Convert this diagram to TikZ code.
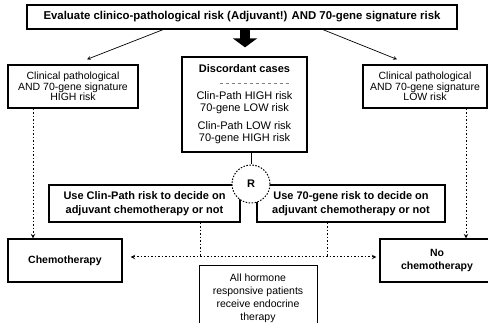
\documentclass[tikz,border=0pt]{standalone}
\usepackage{fontspec}
\setmainfont{Liberation Sans}
\usetikzlibrary{arrows.meta}
\begin{document}
\begin{tikzpicture}[x=1pt, y=-1pt, >=stealth, font=\fontsize{10.5}{10.5}\selectfont]
      \tikzset{box/.style={draw, line width=1.3pt, minimum height=43pt, inner sep=1pt, align=center},
               dotlink/.style={dash pattern=on 1.5pt off 2pt, line width=1pt}}
      \useasboundingbox (0,0) rectangle (488,323);
      \clip (0,0) rectangle (488,323);
      \node[box, minimum width=430pt, minimum height=24pt, font=\fontsize{11.4}{12}\selectfont\bfseries] (eval) at (242,17) {Evaluate clinico-pathological risk (Adjuvant!) AND 70-gene signature risk};
      \node[box, minimum width=130pt] (highrisk) at (73,86.5) {Clinical pathological\\AND 70-gene signature\\HIGH risk};
      \node[box, minimum width=124pt] (lowrisk) at (425,86.5) {Clinical pathological\\AND 70-gene signature\\LOW risk};
      \node[box, minimum width=125pt, minimum height=95pt, font=\fontsize{11}{12.5}\selectfont] (disc) at (244.5,104.5) {\textbf{Discordant cases}\\[14pt] Clin-Path HIGH risk\\70-gene LOW risk\\[5pt] Clin-Path LOW risk\\70-gene HIGH risk};
      \node[box, minimum width=191pt, minimum height=37pt, font=\fontsize{11}{14}\selectfont\bfseries] (useclin) at (144.5,203.5) {Use Clin-Path risk to decide on\\adjuvant chemotherapy or not};
      \node[box, minimum width=188pt, minimum height=37pt, font=\fontsize{11}{14}\selectfont\bfseries] (usegene) at (351,203.5) {Use 70-gene risk to decide on\\adjuvant chemotherapy or not};
      \node[draw, circle, dash pattern=on 1.5pt off 1.5pt, line width=1pt, fill=white, minimum size=38pt, inner sep=0pt, font=\fontsize{11}{11}\selectfont\bfseries] (rand) at (251,184) {R};
      \node[box, minimum width=114pt, font=\fontsize{10.5}{13}\selectfont\bfseries] (chemo) at (65,260.5) {Chemotherapy};
      \node[box, minimum width=114pt, font=\fontsize{10.5}{13}\selectfont\bfseries] (nochemo) at (437,260.5) {No\\chemotherapy};
      \node[box, line width=1pt, minimum width=118pt, minimum height=64pt, font=\fontsize{10.5}{13}\selectfont] (endo) at (258,298) {All hormone\\responsive patients\\receive endocrine\\therapy};
      \coordinate (jl) at (200,257);
      \coordinate (jr) at (327,257);
      \draw[line width=10pt, -{Triangle[width=24pt,length=9pt]}, shorten >=9pt] ([xshift=3pt]eval.south) -- ([xshift=0.5pt]disc.north);
      \draw[->, line width=0.7pt] ([xshift=-79pt]eval.south) -- ([xshift=14pt,yshift=5pt]highrisk.north);
      \draw[->, line width=0.7pt] ([xshift=81pt]eval.south) -- ([xshift=-28pt,yshift=5pt]lowrisk.north);
      \draw[dashed, gray, line width=0.6pt] ([shift={(-25,27)}]disc.north) -- ([shift={(45,27)}]disc.north);
      \draw[line width=1pt] (rand.north |- disc.south) -- (rand.north);
      \draw[dotlink, ->] ([xshift=-40pt]highrisk.south) -- ([xshift=-32pt]chemo.north);
      \draw[dotlink, ->] ([xshift=41pt]lowrisk.south) -- ([xshift=29pt]nochemo.north);
      \draw[dotlink, <->, shorten <=8pt, shorten >=3pt] ([yshift=3.5pt]chemo.east) -- ([yshift=3.5pt]nochemo.west);
      \draw[dotlink] (useclin.south -| jl) -- (jl);
      \draw[dotlink] (usegene.south -| jr) -- (jr);
\end{tikzpicture}
\end{document}
